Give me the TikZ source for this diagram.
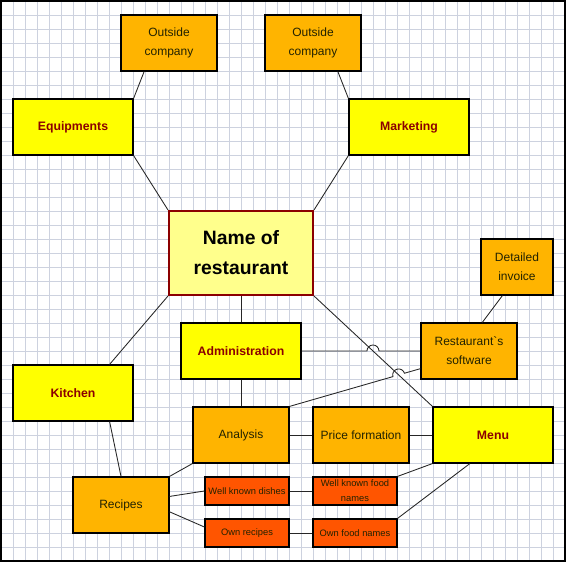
\documentclass[tikz,border=0pt]{standalone}
\usepackage{fontspec}
\setmainfont{Liberation Sans}[Ligatures=TeXOff]
\usetikzlibrary{calc}

\definecolor{gridblue}{HTML}{CDD2DF}
\definecolor{yellowfill}{HTML}{FFFF00}
\definecolor{orangefill}{HTML}{FFB400}
\definecolor{redfill}{HTML}{FF5500}
\definecolor{namefill}{HTML}{FFFF8C}
\definecolor{darkred}{HTML}{8B0000}
\definecolor{ink}{HTML}{222200}

\tikzset{
    box/.style={draw, line width=0.9pt, inner sep=0pt, align=center},
    yellowbox/.style={box, fill=yellowfill, text=darkred, minimum width=90pt, minimum height=42pt,
        font=\bfseries\fontsize{9.2}{14}\selectfont},
    orangebox/.style={box, fill=orangefill, text=ink, minimum width=72pt, minimum height=42pt,
        font=\fontsize{9}{14.25}\selectfont},
    redbox/.style={box, fill=redfill, text=ink, minimum width=63pt, minimum height=21pt,
        font=\fontsize{7}{11.25}\selectfont},
    link/.style={line width=0.65pt, draw=black!85},
}

\begin{document}
\begin{tikzpicture}[x=9pt, y=10.5pt]
    \useasboundingbox (-0.083, -0.143) rectangle (47.167, 40.071);

    % squared paper
    \draw[gridblue, line width=0.6pt, xstep=1, ystep=1] (0, 0) grid (47, 40);
    \draw[line width=1pt] (0, 0) rectangle (47, 40);

    \node[orangebox] (out1) at (14, 37) {Outside\\company};
    \node[orangebox] (out2) at (26, 37) {Outside\\company};
    \node[yellowbox] (equip) at (6, 31) {Equipments};
    \node[yellowbox] (mkt) at (34, 31) {Marketing};
    \node[box, fill=namefill, draw=darkred, line width=1.5pt, minimum width=108pt, minimum height=63pt,
        font=\bfseries\fontsize{14.5}{22.5}\selectfont] (name) at (20, 22) {Name of\\restaurant};
    \node[orangebox, minimum width=54pt] (inv) at (43, 21) {Detailed\\invoice};
    \node[yellowbox] (adm) at (20, 15) {Administration};
    \node[orangebox] (soft) at (39, 15) {Restaurant`s\\software};
    \node[yellowbox] (kitchen) at (6, 12) {Kitchen};
    \node[orangebox] (ana) at (20, 9) {Analysis};
    \node[orangebox] (price) at (30, 9) {Price formation};
    \node[yellowbox] (menu) at (41, 9) {Menu};
    \node[orangebox] (recipes) at (10, 4) {Recipes};
    \node[redbox] (wkd) at (20.5, 5) {Well known dishes};
    \node[redbox] (wkf) at (29.5, 5) {Well known food\\names};
    \node[redbox] (ownr) at (20.5, 2) {Own recipes};
    \node[redbox] (ownf) at (29.5, 2) {Own food names};

    \draw[link] (out1.229) -- (equip.north east);
    \draw[link] (out2.311) -- (mkt.north west);
    \draw[link] (equip.south east) -- (name.north west);
    \draw[link] (mkt.south west) -- (name.north east);
    \draw[link] (name.south west) -- (kitchen.38);
    \draw[link] (name.south) -- (adm.north);
    \draw[link] (name.south east) -- (menu.north west);
    \draw[link] (inv.243) -- (soft.65);
    \draw[link] (adm.south) -- (ana.north);
    \draw[link] (kitchen.-38) -- (recipes.north);
    \draw[link] (recipes.north east) -- (ana.south west);
    \draw[link] (recipes.10) -- (wkd.west);
    \draw[link] (recipes.-8) -- (ownr.172);
    \draw[link] (ana.east) -- (price.west);
    \draw[link] (price.east) -- (menu.west);
    \draw[link] (wkd.east) -- (wkf.west);
    \draw[link] (ownr.east) -- (ownf.west);
    \draw[link] (wkf.north east) -- (menu.south west);
    \draw[link] (ownf.north east) -- (menu.231);

    % line jumps over the name -- menu connector
    \coordinate (jumpA) at (intersection of name.south east--menu.north west and adm.east--soft.west);
    \coordinate (jumpB) at (intersection of name.south east--menu.north west and ana.north east--soft.200);
    \draw[link] (adm.east) -- ($(jumpA)!4.5pt!(adm.east)$)
        arc[start angle=180, end angle=0, radius=4.5pt] -- (soft.west);
    \draw[link] (ana.north east) -- ($(jumpB)!4.5pt!(ana.north east)$)
        arc[start angle=196.3, end angle=16.3, radius=4.5pt] -- (soft.200);

\end{tikzpicture}
\end{document}
